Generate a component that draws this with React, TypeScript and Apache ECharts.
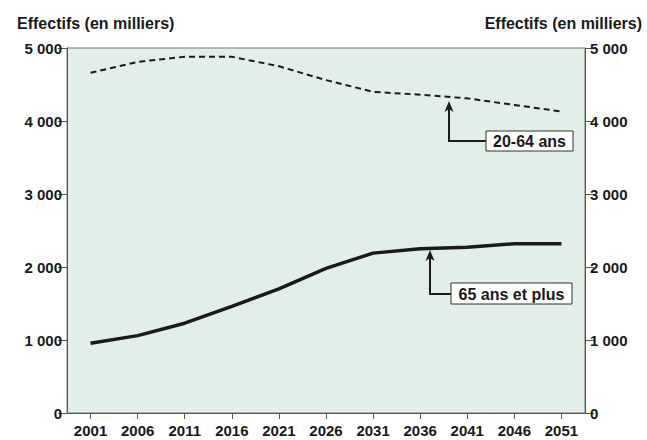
import React, { useEffect, useRef } from "react";
import * as echarts from "echarts";

const years = ["2001", "2006", "2011", "2016", "2021", "2026", "2031", "2036", "2041", "2046", "2051"];
const age2064 = [4660, 4810, 4880, 4880, 4750, 4560, 4400, 4360, 4310, 4220, 4130];
const age65plus = [955, 1060, 1230, 1460, 1700, 1980, 2190, 2250, 2270, 2320, 2320];
const axisTitle = "Effectifs (en milliers)";
const label2064 = "20-64 ans";
const label65 = "65 ans et plus";

const FONT = "'Liberation Sans', Arial, Helvetica, sans-serif";
const fmt = (v: number) => {
  const s = String(Math.round(v));
  return s.length > 3 ? s.slice(0, s.length - 3) + " " + s.slice(s.length - 3) : s;
};

export default function App() {
  const ref = useRef<HTMLDivElement>(null);
  useEffect(() => {
    if (!ref.current) return;
    const chart = echarts.init(ref.current, undefined, { renderer: "svg" });
    const yAxisCommon = {
      type: "value" as const,
      min: 0,
      max: 5000,
      interval: 1000,
      axisLine: { show: true, lineStyle: { color: "#555", width: 1 } },
      axisTick: { show: true, length: 9, lineStyle: { color: "#555" } },
      splitLine: { show: false },
      axisLabel: {
        formatter: fmt,
        color: "#1a1a1a",
        fontFamily: FONT,
        fontWeight: "bold" as const,
        fontSize: 15,
        margin: 5,
      },
    };
    const arrowStyle = { stroke: "#1a1a1a", lineWidth: 2 };
    const textStyle = {
      fontFamily: FONT,
      fontWeight: "bold",
      fontSize: 16,
      fill: "#1a1a1a",
      align: "center",
      verticalAlign: "middle",
    };
    chart.setOption({
      animation: false,
      backgroundColor: "#ffffff",
      grid: {
        left: 67,
        right: 62,
        top: 48,
        bottom: 27,
        show: true,
        backgroundColor: "#e1efe8",
        borderColor: "#777",
        borderWidth: 1,
      },
      xAxis: {
        type: "category",
        data: years,
        boundaryGap: true,
        axisLine: { show: true, lineStyle: { color: "#555" } },
        axisTick: { show: true, alignWithLabel: true, length: 6, lineStyle: { color: "#555" } },
        axisLabel: {
          interval: 0,
          color: "#1a1a1a",
          fontFamily: FONT,
          fontWeight: "bold",
          fontSize: 15,
          margin: 10,
        },
        splitLine: { show: false },
      },
      yAxis: [
        { ...yAxisCommon, position: "left" },
        { ...yAxisCommon, position: "right" },
      ],
      series: [
        {
          name: label2064,
          type: "line",
          data: age2064,
          symbol: "none",
          lineStyle: { color: "#1a1a1a", width: 2, type: [6, 4] },
        },
        {
          name: label65,
          type: "line",
          data: age65plus,
          symbol: "none",
          lineStyle: { color: "#1a1a1a", width: 3.5 },
        },
      ],
      graphic: [
        {
          type: "text",
          left: 17,
          top: 15,
          style: { text: axisTitle, fontFamily: FONT, fontWeight: "bold", fontSize: 16, fill: "#1a1a1a" },
        },
        {
          type: "text",
          right: 5,
          top: 15,
          style: { text: axisTitle, fontFamily: FONT, fontWeight: "bold", fontSize: 16, fill: "#1a1a1a" },
        },
        // 20-64 annotation
        { type: "polyline", shape: { points: [[449, 108], [449, 141], [486, 141]] }, style: { ...arrowStyle, fill: "none" } },
        { type: "polygon", shape: { points: [[449, 101], [453.5, 112], [449, 109], [444.5, 112]] }, style: { fill: "#1a1a1a" } },
        { type: "rect", shape: { x: 486, y: 131, width: 87, height: 20 }, style: { fill: "#fff", stroke: "#333", lineWidth: 1 } },
        { type: "text", x: 529.5, y: 141.5, style: { ...textStyle, text: label2064 } },
        // 65+ annotation
        { type: "polyline", shape: { points: [[430, 257], [430, 294], [451, 294]] }, style: { ...arrowStyle, fill: "none" } },
        { type: "polygon", shape: { points: [[430, 250], [434.5, 261], [430, 258], [425.5, 261]] }, style: { fill: "#1a1a1a" } },
        { type: "rect", shape: { x: 451, y: 283, width: 121, height: 21 }, style: { fill: "#fff", stroke: "#333", lineWidth: 1 } },
        { type: "text", x: 511.5, y: 294, style: { ...textStyle, text: label65 } },
      ],
    });
    return () => chart.dispose();
  }, []);
  return <div ref={ref} style={{ width: 647, height: 440, position: "absolute", left: 0, top: 0 }} />;
}
